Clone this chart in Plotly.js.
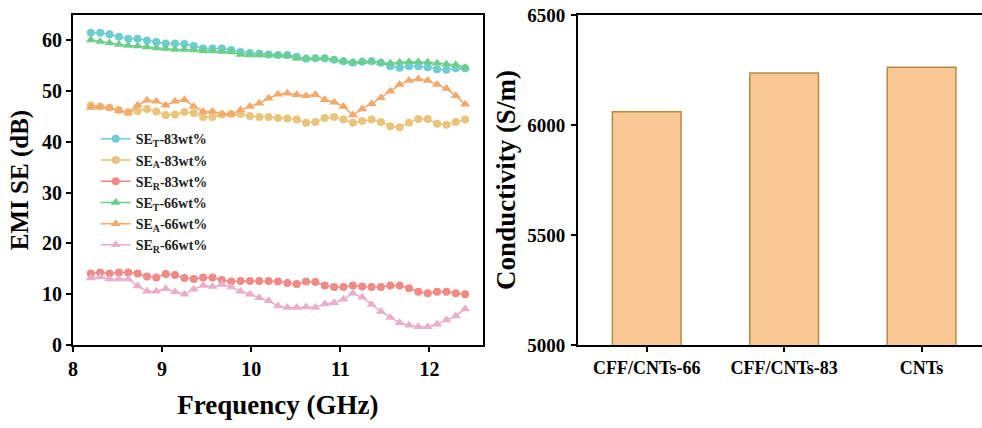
<!DOCTYPE html>
<html>
<head>
<meta charset="utf-8">
<script src="https://cdn.plot.ly/plotly-3.0.1.min.js"></script>
<style>html,body{margin:0;padding:0;background:#fff}#chart{width:982px;height:428px}</style>
</head>
<body>
<div id="chart"></div>
<script>
const freq = [8.200, 8.305, 8.410, 8.515, 8.620, 8.725, 8.830, 8.935, 9.040, 9.145,
  9.250, 9.355, 9.460, 9.565, 9.670, 9.775, 9.880, 9.985, 10.090, 10.195,
  10.300, 10.405, 10.510, 10.615, 10.720, 10.825, 10.930, 11.035, 11.140, 11.245,
  11.350, 11.455, 11.560, 11.665, 11.770, 11.875, 11.980, 12.085, 12.190, 12.295, 12.400];

const seT83 = [61.5,61.5,61.2,60.7,60.3,60.3,60.0,59.7,59.4,59.4,
  59.3,58.9,58.4,58.4,58.4,58.1,57.7,57.5,57.4,57.2,
  57.1,57.1,56.8,56.4,56.5,56.5,56.2,55.9,55.6,55.8,
  55.9,55.6,54.9,54.6,54.9,54.9,54.7,54.3,54.2,54.5,54.5];
const seA83 = [47.2,47.0,46.8,46.3,45.9,46.1,46.5,46.0,45.3,45.4,
  45.9,45.7,44.9,44.9,45.4,45.5,45.5,45.1,44.9,44.9,
  44.7,44.6,44.4,43.8,43.9,44.7,44.9,44.4,43.8,44.1,
  44.4,43.9,43.1,42.9,43.8,44.5,44.5,43.6,43.4,43.9,44.4];
const seR83 = [14.1,14.3,14.1,14.3,14.3,14.1,13.5,13.3,14.0,13.8,
  13.2,13.0,13.3,13.3,12.8,12.5,12.6,12.6,12.6,12.6,
  12.5,12.2,12.0,12.5,12.4,11.7,11.4,11.4,11.7,11.5,
  11.4,11.4,11.7,11.7,11.2,10.5,10.2,10.5,10.5,10.2,10.0];
const seT66 = [60.1,59.8,59.5,59.2,59.0,58.9,58.7,58.5,58.4,58.2,
  58.2,58.1,57.9,57.9,57.8,57.7,57.2,57.1,57.1,57.1,
  57.0,56.9,56.5,56.5,56.5,56.5,56.2,55.9,55.7,55.8,
  55.9,55.6,55.5,55.7,55.8,55.8,55.7,55.5,55.3,55.2,54.6];
const seA66 = [46.8,46.9,46.7,46.2,45.7,47.2,48.2,48.0,47.2,48.0,
  48.3,47.0,46.0,46.0,45.5,45.5,46.3,47.0,47.6,48.6,
  49.4,49.6,49.3,49.1,49.3,48.3,47.8,47.0,45.3,46.5,
  47.5,48.7,50.0,51.3,52.1,52.4,52.1,51.3,50.5,49.1,47.4];
const seR66 = [13.2,13.4,13.0,13.0,13.0,11.6,10.6,10.6,11.1,10.5,
  10.0,11.0,11.7,11.5,11.9,11.4,10.6,10.0,9.3,8.7,
  7.7,7.4,7.4,7.5,7.4,8.1,8.3,9.0,10.2,9.4,
  8.0,6.6,5.4,4.4,3.9,3.6,3.6,4.1,4.9,5.7,7.1];

const seriesNames = ['SE<sub>T</sub>-83wt%','SE<sub>A</sub>-83wt%','SE<sub>R</sub>-83wt%',
  'SE<sub>T</sub>-66wt%','SE<sub>A</sub>-66wt%','SE<sub>R</sub>-66wt%'];

const samples = ['CFF/CNTs-66','CFF/CNTs-83','CNTs'];
const conductivity = [6060, 6236, 6262];

const FONT = 'Liberation Serif, Times New Roman, serif';
const colors = ['#6DCDD0','#E9C47D','#EF8A85','#6BCF8B','#F2A96A','#EAAECB'];
const symbols = ['circle','circle','circle','triangle-up','triangle-up','triangle-up'];
const ys = [seT83, seA83, seR83, seT66, seA66, seR66];

const traces = ys.map((y, i) => ({
  type: 'scatter', mode: 'lines+markers', x: freq, y: y, name: seriesNames[i],
  xaxis: 'x', yaxis: 'y',
  line: {color: colors[i], width: 1.5},
  marker: {color: colors[i], symbol: symbols[i], size: symbols[i] === 'circle' ? 8 : 9}
}));

traces.push({
  type: 'bar', x: samples, y: conductivity, xaxis: 'x2', yaxis: 'y2', showlegend: false,
  width: 0.5, base: 0,
  marker: {color: '#F9C995', line: {color: '#B98A45', width: 1.5}}
});

const axisCommon = {
  showline: true, linecolor: '#000', linewidth: 2, ticks: 'outside', ticklen: 5, tickwidth: 2,
  tickcolor: '#000', showgrid: false, zeroline: false, automargin: false
};

const layout = {
  width: 982, height: 428,
  margin: {l: 73, r: 0, t: 15, b: 83},
  paper_bgcolor: '#fff', plot_bgcolor: '#fff',
  font: {family: FONT, color: '#000'},
  showlegend: true,
  legend: {x: 0.025, y: 0.672, xanchor: 'left', yanchor: 'top', bgcolor: 'rgba(0,0,0,0)',
    font: {family: FONT, size: 14, weight: 'bold', color: '#222'}, tracegroupgap: 0},
  xaxis: Object.assign({}, axisCommon, {
    domain: [0, 0.451], range: [8, 12.6], mirror: true, tickvals: [8, 9, 10, 11, 12],
    tickfont: {family: FONT, size: 20, weight: 'bold'}, ticklabelstandoff: 0,
    title: {text: 'Frequency (GHz)', font: {family: FONT, size: 27, weight: 'bold'}, standoff: 16}
  }),
  yaxis: Object.assign({}, axisCommon, {
    domain: [0, 1], range: [0, 65], mirror: true, tickvals: [0, 10, 20, 30, 40, 50, 60],
    tickfont: {family: FONT, size: 20, weight: 'bold'}, ticklabelstandoff: 0,
    title: {text: 'EMI SE (dB)', font: {family: FONT, size: 25, weight: 'bold'}, standoff: 6}
  }),
  xaxis2: Object.assign({}, axisCommon, {
    domain: [0.5556, 1], range: [-0.5, 2.44], mirror: true, anchor: 'y2',
    type: 'category', tickfont: {family: FONT, size: 18, weight: 'bold'}, ticklabelstandoff: 0
  }),
  yaxis2: Object.assign({}, axisCommon, {
    domain: [0, 1], range: [5000, 6500], anchor: 'x2', tickvals: [5000, 5500, 6000, 6500],
    tickfont: {family: FONT, size: 19, weight: 'bold'}, ticklabelstandoff: 2,
    title: {text: 'Conductivity (S/m)', font: {family: FONT, size: 27, weight: 'bold'}, standoff: 4}
  })
};

Plotly.newPlot('chart', traces, layout, {staticPlot: true, displayModeBar: false});
</script>
</body>
</html>
